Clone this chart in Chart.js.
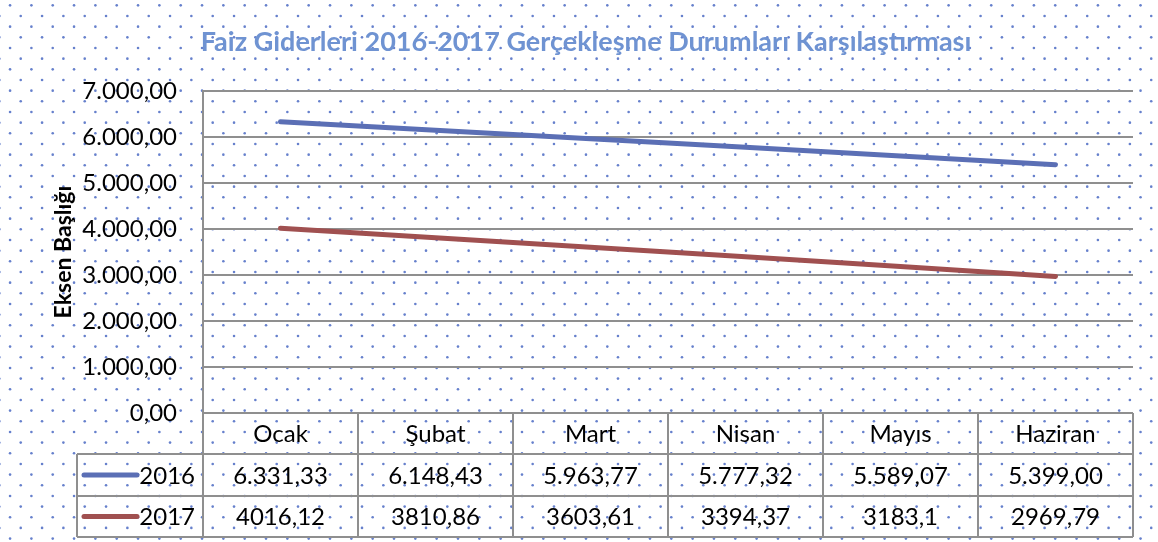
<!DOCTYPE html>
<html>
<head>
<meta charset="utf-8">
<script src="https://cdn.jsdelivr.net/npm/chart.js@4"></script>
<style>
  html, body { margin: 0; padding: 0; background: #fff; }
  canvas { display: block; }
</style>
</head>
<body>
<canvas id="myChart" width="1158" height="542"></canvas>
<script>
const months = ['Ocak', 'Şubat', 'Mart', 'Nisan', 'Mayıs', 'Haziran'];
const seriesNames = ['2016', '2017'];
const values2016 = [6331.33, 6148.43, 5963.77, 5777.32, 5589.07, 5399.00];
const values2017 = [4016.12, 3810.86, 3603.61, 3394.37, 3183.1, 2969.79];
const yTicks = [0, 1000, 2000, 3000, 4000, 5000, 6000, 7000];

const titleText = 'Faiz Giderleri 2016-2017 Gerçekleşme Durumları Karşılaştırması';
const axisTitle = 'Eksen Başlığı';

const BLUE = '#5b6fb5';
const RED = '#a05050';
const GRID = '#8f8f8f';
const FONT = 'Lato, "Open Sans", sans-serif';

// 7000 -> "7.000,00"
function trNumber(v) {
  const parts = v.toFixed(2).split('.');
  const whole = parts[0].replace(/\B(?=(\d{3})+(?!\d))/g, '.');
  return whole + ',' + parts[1];
}
// 2017 row is shown raw in the sheet: 4016,12 / 3183,1
function rawNumber(v) {
  return String(v).replace('.', ',');
}

const tableRows = [
  { name: seriesNames[0], color: BLUE, cells: values2016.map(trNumber) },
  { name: seriesNames[1], color: RED, cells: values2017.map(rawNumber) }
];

// dotted background like the excel fill
const dotsPlugin = {
  id: 'dots',
  beforeDraw(chart) {
    const c = chart.ctx;
    const step = 21.33;
    c.save();
    c.fillStyle = '#fff';
    c.fillRect(0, 0, chart.width, chart.height);
    c.fillStyle = '#6680cc';
    for (let y = 16 - step * 2; y < chart.height + step; y += step) {
      for (let x = -0.6 - step; x < chart.width + step; x += step) {
        c.beginPath();
        c.arc(x, y, 1.3, 0, Math.PI * 2);
        c.fill();
        c.beginPath();
        c.arc(x + step / 2, y + step / 2, 1.3, 0, Math.PI * 2);
        c.fill();
      }
    }
    c.restore();
  }
};

// title + data table under the plot
const tablePlugin = {
  id: 'dataTable',
  afterDraw(chart) {
    const c = chart.ctx;
    const xs = chart.scales.x;
    const area = chart.chartArea;
    const band = (area.right - area.left) / months.length;
    const rowH = [41, 42, 41];
    const top = area.bottom;
    const y1 = top + rowH[0];
    const y2 = y1 + rowH[1];
    const y3 = y2 + rowH[2];
    const legendLeft = 77;

    c.save();
    c.fillStyle = '#6f93d2';
    c.font = 'bold 27px ' + FONT;
    c.textAlign = 'center';
    c.textBaseline = 'alphabetic';
    c.fillText(titleText, 586, 51);

    c.strokeStyle = GRID;
    c.lineWidth = 2;
    c.beginPath();
    // horizontal lines
    c.moveTo(area.left, top); c.lineTo(area.right, top);
    c.moveTo(legendLeft, y1); c.lineTo(area.right, y1);
    c.moveTo(legendLeft, y2); c.lineTo(area.right, y2);
    c.moveTo(legendLeft, y3); c.lineTo(area.right, y3);
    // vertical lines
    c.moveTo(legendLeft, y1); c.lineTo(legendLeft, y3);
    for (let i = 0; i <= months.length; i++) {
      const x = area.left + band * i;
      c.moveTo(x, i === 0 ? area.top : top); c.lineTo(x, y3);
    }
    c.stroke();

    c.fillStyle = '#000';
    c.font = '24px ' + FONT;
    c.textAlign = 'center';
    c.textBaseline = 'middle';
    months.forEach((m, i) => {
      c.fillText(m, xs.getPixelForValue(i), (top + y1) / 2 + 1);
    });
    const rowTops = [y1, y2];
    const rowBots = [y2, y3];
    tableRows.forEach((row, r) => {
      const cy = (rowTops[r] + rowBots[r]) / 2 + 1;
      row.cells.forEach((txt, i) => {
        c.textAlign = 'center';
        c.fillText(txt, xs.getPixelForValue(i), cy);
      });
      c.strokeStyle = row.color;
      c.lineWidth = 5;
      c.lineCap = 'round';
      c.beginPath();
      c.moveTo(84, cy - 1);
      c.lineTo(137, cy - 1);
      c.stroke();
      c.textAlign = 'right';
      c.fillText(row.name, 195, cy);
    });
    c.restore();
  }
};

const ctx = document.getElementById('myChart');

const chart = new Chart(ctx, {
  type: 'line',
  data: {
    labels: months,
    datasets: [{
      label: seriesNames[0],
      data: values2016,
      borderColor: BLUE,
      borderWidth: 5,
      borderCapStyle: 'round',
      pointRadius: 0,
      tension: 0
    }, {
      label: seriesNames[1],
      data: values2017,
      borderColor: RED,
      borderWidth: 5,
      borderCapStyle: 'round',
      pointRadius: 0,
      tension: 0
    }]
  },
  options: {
    responsive: false,
    animation: false,
    devicePixelRatio: 1,
    layout: {
      padding: { left: 46, right: 25, top: 91, bottom: 129 }
    },
    plugins: {
      legend: { display: false },
      title: { display: false },
      tooltip: { enabled: false }
    },
    scales: {
      x: {
        type: 'category',
        offset: true,
        display: false
      },
      y: {
        min: yTicks[0],
        max: yTicks[yTicks.length - 1],
        afterFit(scale) { scale.width = 157; },
        afterBuildTicks(scale) {
          scale.ticks = yTicks.map(v => ({ value: v }));
        },
        ticks: {
          padding: 26,
          color: '#000',
          font: { family: FONT, size: 24 },
          callback: v => trNumber(v)
        },
        grid: {
          color: GRID,
          lineWidth: 2,
          drawTicks: false
        },
        border: { display: true, color: GRID, width: 2 },
        title: {
          display: true,
          text: axisTitle,
          color: '#000',
          font: { family: FONT, size: 23, weight: 'bold' }
        }
      }
    }
  },
  plugins: [dotsPlugin, tablePlugin]
});
</script>
</body>
</html>
